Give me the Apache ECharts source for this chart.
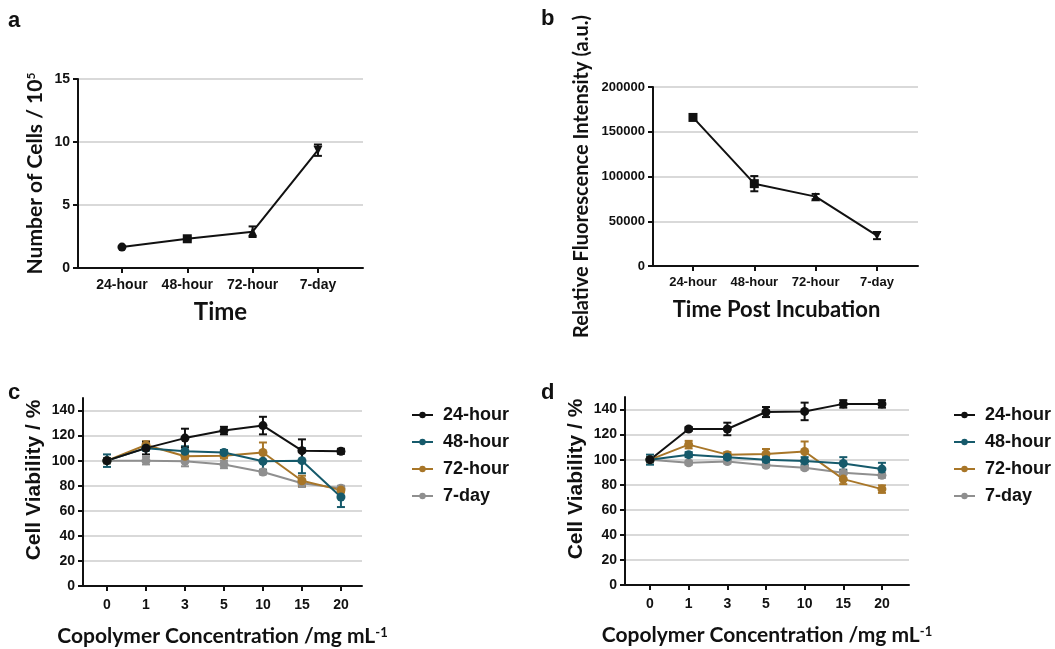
<!DOCTYPE html>
<html>
<head>
<meta charset="utf-8">
<script src="https://cdn.jsdelivr.net/npm/echarts@6/dist/echarts.min.js"></script>
<style>
  html, body { margin: 0; padding: 0; background: #fff; }
  #chart { width: 1055px; height: 649px; }
</style>
</head>
<body>
<div id="chart"></div>
<script>
// panel a / b categories
const timeCats = ["24-hour", "48-hour", "72-hour", "7-day"];
const cellCount = [1.66, 2.32, 2.88, 9.35];
const cellCountErr = [0.08, 0.12, 0.42, 0.45];
const fluor = [166000, 92000, 77500, 34000];
const fluorErr = [2500, 8500, 3000, 4000];

// panel c / d categories
const concCats = ["0", "1", "3", "5", "10", "15", "20"];
const seriesNames = ["24-hour", "48-hour", "72-hour", "7-day"];

const c24 = [100, 110, 118, 124, 128, 108, 107.5];
const c24Err = [2, 5, 7.5, 3, 7, 9, 2];
const c48 = [100, 110, 107.5, 106.5, 99.5, 100, 71];
const c48Err = [5, 2, 4, 2, 7, 10, 8];
const c72 = [100, 112.5, 103.5, 104, 106.5, 84, 76.5];
const c72Err = [2, 3, 2, 2, 8, 4, 2];
const c7d = [100, 100, 99.5, 97, 91, 82, 78];
const c7dErr = [2, 3, 4, 3, 2, 3, 2];

const d24 = [100, 124.5, 124.5, 138, 138.5, 144.5, 144.5];
const d24Err = [2, 1.5, 5, 4, 7, 3, 3];
const d48 = [100, 104, 102, 100, 99, 97, 92.5];
const d48Err = [4, 2, 2, 2, 3, 5, 5];
const d72 = [100, 112, 104, 104.5, 106.5, 84.5, 76.5];
const d72Err = [2, 3, 2, 4, 8, 4, 3];
const d7d = [100, 97.5, 98.5, 95.5, 93.5, 89.5, 87.5];
const d7dErr = [1.5, 1.5, 1.5, 1.5, 1.5, 1.5, 2];

const colors = ["#111111", "#165a6b", "#a87628", "#8f8f8f"];

const tickFont = "Liberation Sans";
const titleFont = "Lato";

let chart = echarts.init(document.getElementById("chart"));

function xAxisFor(gridIndex, cats, min, max, fontSize, margin, name, nameGap) {
  let idx = cats.map((c, i) => i);
  return {
    type: "value",
    gridIndex: gridIndex,
    min: min,
    max: max,
    splitLine: { show: false },
    axisLine: { onZero: false, lineStyle: { color: "#111", width: 2 } },
    axisTick: { show: true, customValues: idx, length: 5, lineStyle: { color: "#111", width: 2 } },
    axisLabel: {
      customValues: idx,
      formatter: v => cats[Math.round(v)],
      color: "#111",
      fontFamily: tickFont,
      fontWeight: "bold",
      fontSize: fontSize,
      margin: margin
    },
    name: name.text,
    nameLocation: "middle",
    nameGap: nameGap,
    nameTextStyle: name.style
  };
}

function yAxisFor(gridIndex, max, interval, labels, fontSize, name, nameGap) {
  return {
    type: "value",
    gridIndex: gridIndex,
    min: 0,
    max: max,
    interval: interval,
    axisLine: { show: true, onZero: false, lineStyle: { color: "#111", width: 2 } },
    axisTick: { show: true, customValues: labels, length: 5, lineStyle: { color: "#111", width: 2 } },
    axisLabel: {
      customValues: labels,
      formatter: v => String(v),
      color: "#111",
      fontFamily: tickFont,
      fontWeight: "bold",
      fontSize: fontSize,
      margin: 8
    },
    splitLine: { show: true, lineStyle: { color: "#d9d9d9", width: 2 } },
    name: name.text,
    nameLocation: "middle",
    nameRotate: 90,
    nameGap: nameGap,
    nameTextStyle: name.style
  };
}

function lineSeries(name, color, axis, values, symbols, symbolSize) {
  return {
    name: name,
    type: "line",
    xAxisIndex: axis,
    yAxisIndex: axis,
    z: 3,
    color: color,
    symbol: "circle",
    lineStyle: { color: color, width: 2 },
    itemStyle: { color: color },
    symbolSize: symbolSize,
    data: values.map((v, i) => {
      let item = { value: [i, v] };
      if (symbols) {
        item.symbol = symbols[i] === "down" ? "triangle" : symbols[i];
        if (symbols[i] === "down") item.symbolRotate = 180;
      }
      return item;
    })
  };
}

function errorSeries(color, axis, values, errs, cap) {
  return {
    name: "err",
    type: "custom",
    xAxisIndex: axis,
    yAxisIndex: axis,
    z: 2,
    encode: { x: 0, y: [1, 2] },
    data: values.map((v, i) => [i, v - errs[i], v + errs[i]]),
    renderItem: (params, api) => {
      let lo = api.coord([api.value(0), api.value(1)]);
      let hi = api.coord([api.value(0), api.value(2)]);
      let st = { stroke: color, lineWidth: 2 };
      return {
        type: "group",
        children: [
          { type: "line", shape: { x1: lo[0], y1: lo[1], x2: hi[0], y2: hi[1] }, style: st },
          { type: "line", shape: { x1: hi[0] - cap, y1: hi[1], x2: hi[0] + cap, y2: hi[1] }, style: st },
          { type: "line", shape: { x1: lo[0] - cap, y1: lo[1], x2: lo[0] + cap, y2: lo[1] }, style: st }
        ]
      };
    }
  };
}

const bigTitle = (size, padding) => ({ color: "#111", fontFamily: titleFont, fontWeight: "bold", fontSize: size, padding: padding || 0 });
const supTitle = (font, size, supSize, padding) => ({
  color: "#111", fontFamily: font, fontWeight: "bold", fontSize: size, padding: padding || 0,
  rich: { sup: { fontFamily: titleFont, fontWeight: "bold", fontSize: supSize, verticalAlign: "top", lineHeight: supSize } }
});

let series = [];
// panel a
series.push(errorSeries("#111", 0, cellCount, cellCountErr, 4));
series.push(lineSeries("cells", "#111", 0, cellCount, ["circle", "rect", "triangle", "down"], 9));
// panel b
series.push(errorSeries("#111", 1, fluor, fluorErr, 4));
series.push(lineSeries("fluor", "#111", 1, fluor, ["rect", "rect", "triangle", "down"], 9));
// panels c and d
const cVals = [c24, c48, c72, c7d];
const cErrs = [c24Err, c48Err, c72Err, c7dErr];
const dVals = [d24, d48, d72, d7d];
const dErrs = [d24Err, d48Err, d72Err, d7dErr];
for (let k = 3; k >= 0; k--) {
  series.push(errorSeries(colors[k], 2, cVals[k], cErrs[k], 4));
  series.push(lineSeries(seriesNames[k], colors[k], 2, cVals[k], null, 9));
  series.push(errorSeries(colors[k], 3, dVals[k], dErrs[k], 4));
  series.push(lineSeries(seriesNames[k], colors[k], 3, dVals[k], null, 9));
}

const legendCommon = {
  orient: "vertical",
  data: seriesNames,
  itemWidth: 21,
  itemHeight: 8,
  itemGap: 9,
  selectedMode: false,
  textStyle: { color: "#111", fontFamily: tickFont, fontWeight: "bold", fontSize: 18, padding: [0, 0, 0, 5] }
};

let option = {
  animation: false,
  backgroundColor: "#fff",
  grid: [
    { left: 78, top: 79, width: 285, height: 189 },
    { left: 653, top: 87, width: 265, height: 179 },
    { left: 83, top: 398, width: 279, height: 188 },
    { left: 625, top: 397, width: 284, height: 188 }
  ],
  xAxis: [
    xAxisFor(0, timeCats, -0.673, 3.69, 14, 10, { text: "Time", style: bigTitle(24) }, 32),
    xAxisFor(1, timeCats, -0.652, 3.669, 13, 10, { text: "Time Post Incubation", style: bigTitle(22, [0, 18, 0, 0]) }, 33),
    xAxisFor(2, concCats, -0.615, 6.54, 14, 12, { text: "Copolymer Concentration /mg mL{sup|-1}", style: supTitle(titleFont, 21, 13) }, 40),
    xAxisFor(3, concCats, -0.647, 6.70, 14, 12, { text: "Copolymer Concentration /mg mL{sup|-1}", style: supTitle(titleFont, 21, 13) }, 40)
  ],
  yAxis: [
    yAxisFor(0, 15, 5, [0, 5, 10, 15], 14, { text: "Number of Cells / 10{sup|5}", style: supTitle(titleFont, 21, 12) }, 32),
    yAxisFor(1, 200000, 50000, [0, 50000, 100000, 150000, 200000], 13,
      { text: "Relative Fluorescence Intensity (a.u.)", style: bigTitle(20) }, 61),
    yAxisFor(2, 150, 10, [0, 20, 40, 60, 80, 100, 120, 140], 14,
      { text: "Cell Viability / %", style: supTitle(tickFont, 21, 12, [0, 0, 0, 24]) }, 38),
    yAxisFor(3, 150, 10, [0, 20, 40, 60, 80, 100, 120, 140], 14,
      { text: "Cell Viability / %", style: supTitle(tickFont, 21, 12, [0, 0, 0, 24]) }, 38)
  ],
  legend: [
    Object.assign({ left: 406, top: 401 }, legendCommon),
    Object.assign({ left: 948, top: 401 }, legendCommon)
  ],
  graphic: [
    { type: "text", left: 8, top: 10, style: { text: "a", fill: "#111", font: "bold 22px 'Liberation Sans'" } },
    { type: "text", left: 541, top: 8, style: { text: "b", fill: "#111", font: "bold 22px 'Liberation Sans'" } },
    { type: "text", left: 8, top: 382, style: { text: "c", fill: "#111", font: "bold 22px 'Liberation Sans'" } },
    { type: "text", left: 541, top: 382, style: { text: "d", fill: "#111", font: "bold 22px 'Liberation Sans'" } }
  ],
  series: series
};

chart.setOption(option);
</script>
</body>
</html>
